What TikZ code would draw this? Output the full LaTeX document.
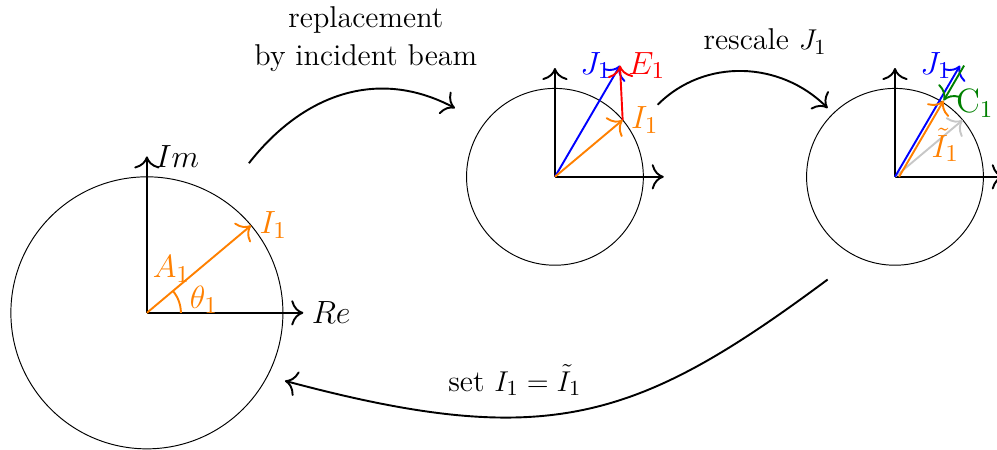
\documentclass[tikz,border=0pt]{standalone}
\usepackage{fontspec}
\usetikzlibrary{arrows.meta}
\newcommand{\mlab}[1]{\scalebox{1.12}{$#1$}}
\begin{document}
\begin{tikzpicture}[font=\fontsize{12.6}{16}\selectfont,
  >={To[scale=1.5]},
  vec/.style={thick,->},
  axis/.style={thick,->},
  flow/.style={thick,->},
  ring/.style={draw,thin}]
\useasboundingbox (-2.16,-2.01) rectangle (12.5,4.6);
% ---------- left diagram ----------
\coordinate (O) at (0,0);
\draw[ring] (O) circle (2);
\coordinate (ImT) at (0,2.3);
\coordinate (ReT) at (2.3,0);
\draw[axis] (O) -- (ImT);
\draw[axis] (O) -- (ReT);
\node[anchor=west] (Im) at (ImT) {\mlab{Im}};
\node[anchor=west] (Re) at (ReT) {\mlab{Re}};
\coordinate (I) at (40:2);
\draw[vec,orange] (O) -- (I) node[midway,left] (A) {\mlab{A_1}};
\node[orange,anchor=west] (Il) at (I) {\mlab{I_1}};
\draw[thick,orange] (0.5,0) arc (0:40:0.5);
\node[orange] (th) at (0.84,0.19) {\mlab{\theta_1}};
% ---------- middle diagram ----------
\coordinate (M) at (6,2);
\draw[ring] (M) circle (1.3);
\coordinate (MUp) at ([shift={(0,1.6)}]M);
\coordinate (MRt) at ([shift={(1.6,0)}]M);
\draw[axis] (M) -- (MUp);
\draw[axis] (M) -- (MRt);
\coordinate (MI) at ([shift={(40:1.3)}]M);
\coordinate (MJ) at ([shift={(0.956,1.636)}]M);
\draw[vec,blue] (M) -- (MJ);
\draw[vec,orange] (M) -- (MI);
\draw[vec,red] (MI) -- (MJ);
\node[orange,anchor=west] (MIl) at (MI) {\mlab{I_1}};
\node[blue,anchor=east] (MJl) at (MJ) {\mlab{J_1}};
\node[red,anchor=west] (MEl) at (MJ) {\mlab{E_1}};
% ---------- right diagram ----------
\coordinate (R) at (11,2);
\draw[ring] (R) circle (1.3);
\coordinate (RUp) at ([shift={(0,1.6)}]R);
\coordinate (RRt) at ([shift={(1.6,0)}]R);
\draw[axis] (R) -- (RUp);
\draw[axis] (R) -- (RRt);
\coordinate (RI) at ([shift={(40:1.3)}]R);
\coordinate (RJ) at ([shift={(0.956,1.636)}]R);
\coordinate (RS) at ([shift={(0.06,0)}]R);
\coordinate (RT) at ([shift={(0.716,1.122)}]R);
\coordinate (RJs) at ([shift={(0.06,0)}]RJ);
\draw[vec,black!22] (R) -- (RI);
\draw[vec,blue] (R) -- (RJ);
\draw[vec,orange] (RS) -- (RT);
\draw[vec,green!50!black] (RJs) -- (RT);
\node[blue,anchor=east] (RJl) at (RJ) {\mlab{J_1}};
\node[green!50!black,anchor=west,inner sep=5pt] (RCl) at ([yshift=-1pt]RT) {\mlab{\mathrm{C}_1}};
\node[orange] (RIl) at ([shift={(0.74,0.47)}]R) {\mlab{\tilde{I}_1}};
% ---------- process arrows ----------
\coordinate (a1s) at (1.5,2.2);
\coordinate (a1e) at (4.53,3.01);
\draw[flow] (a1s) to[out=52,in=152,looseness=1.05] (a1e);
\node[align=center] (t1) at (3.22,4.03) {replacement\\by incident beam};
\coordinate (a2s) at (7.51,3.06);
\coordinate (a2e) at (10.01,3.01);
\draw[flow] (a2s) to[out=45,in=135] (a2e);
\node (t2) at (9.09,3.99) {rescale $J_1$};
\coordinate (a3s) at (10.01,0.49);
\coordinate (a3e) at (2.03,-1.0);
\draw[flow] (a3s) to[out=216.6,in=-15,out distance=3.5cm,in distance=4cm] (a3e);
\node (t3) at (5.41,-0.99) {set $I_1=\tilde{I}_1$};
\end{tikzpicture}
\end{document}
